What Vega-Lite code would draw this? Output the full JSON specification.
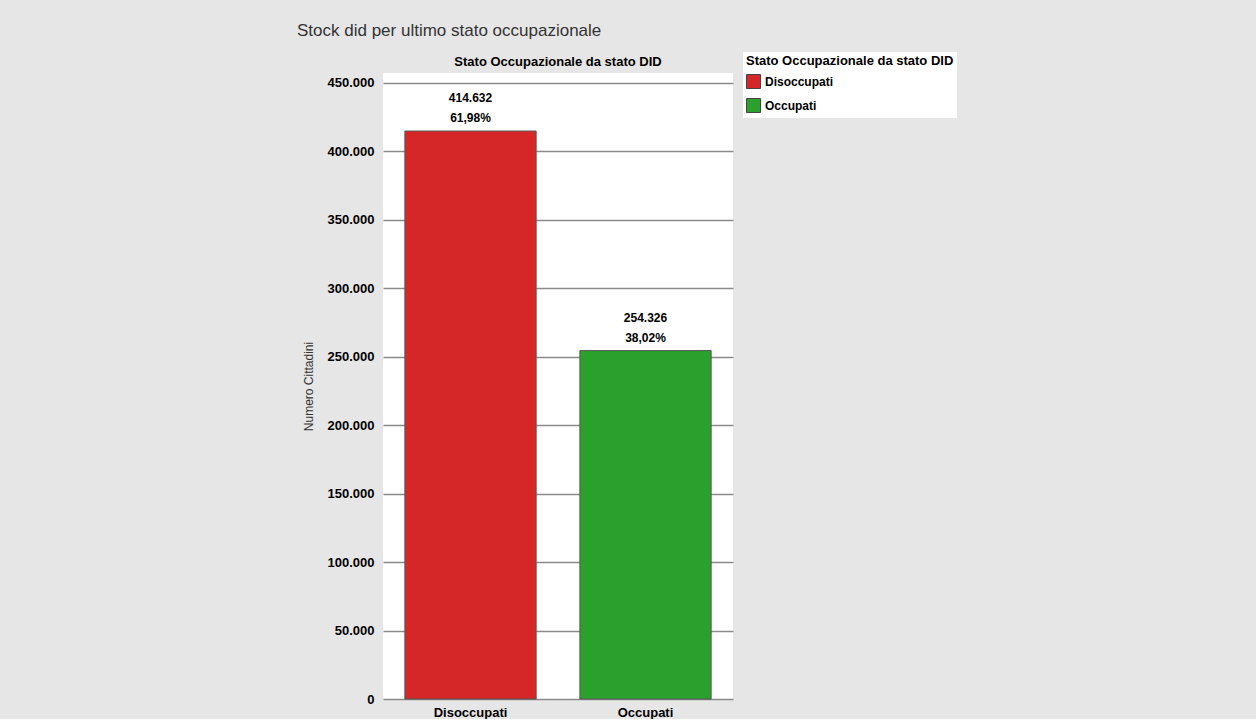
{
  "$schema": "https://vega.github.io/schema/vega-lite/v6.json",
  "background": "#e6e6e6",
  "padding": {"left": 297, "top": 22, "right": 299, "bottom": 0},
  "title": {
    "text": "Stock did per ultimo stato occupazionale",
    "anchor": "start",
    "frame": "bounds",
    "dx": -5,
    "fontSize": 17,
    "font": "Liberation Sans",
    "fontWeight": "normal",
    "color": "#333333",
    "offset": 12
  },
  "config": {
    "locale": {"number": {"decimal": ",", "thousands": ".", "grouping": [3], "currency": ["€", ""]}},
    "view": {"fill": "white", "stroke": null},
    "font": "Liberation Sans"
  },
  "vconcat": [
    {
      "width": 350,
      "height": 626,
      "title": {
        "text": "Stato Occupazionale da stato DID",
        "fontSize": 13,
        "fontWeight": "bold",
        "color": "black",
        "offset": 4,
        "anchor": "middle"
      },
      "data": {
        "values": [
          {"stato": "Disoccupati", "cittadini": 414632, "percentuale": "61,98%"},
          {"stato": "Occupati", "cittadini": 254326, "percentuale": "38,02%"}
        ]
      },
      "encoding": {
        "x": {
          "field": "stato",
          "type": "nominal",
          "scale": {"paddingInner": 0.25, "paddingOuter": 0.125},
          "axis": {
            "title": null,
            "labelAngle": 0,
            "labelFontSize": 13,
            "labelFontWeight": "bold",
            "labelColor": "black",
            "labelPadding": 7,
            "domain": false,
            "ticks": false,
            "grid": false
          }
        },
        "y": {
          "field": "cittadini",
          "type": "quantitative",
          "scale": {"domain": [0, 457000], "nice": false},
          "axis": {
            "title": "Numero Cittadini",
            "titleFontSize": 12,
            "titleFontWeight": "normal",
            "titleColor": "#333333",
            "titlePadding": 12,
            "format": ",d",
            "values": [0, 50000, 100000, 150000, 200000, 250000, 300000, 350000, 400000, 450000],
            "labelFontSize": 13,
            "labelFontWeight": "bold",
            "labelColor": "black",
            "labelPadding": 9,
            "domain": false,
            "ticks": false,
            "gridColor": "#8a8a8a",
            "gridWidth": 1.5,
            "gridOpacity": 1
          }
        }
      },
      "layer": [
        {
          "mark": {"type": "bar", "stroke": "#555555", "strokeWidth": 1},
          "encoding": {
            "color": {
              "field": "stato",
              "type": "nominal",
              "scale": {"domain": ["Disoccupati", "Occupati"], "range": ["#d62728", "#2ca02c"]},
              "legend": {
                "title": "Stato Occupazionale da stato DID",
                "orient": "none",
                "legendX": 360,
                "legendY": -21,
                "fillColor": "white",
                "padding": 3,
                "titleFontSize": 13,
                "titleFontWeight": "bold",
                "titleColor": "black",
                "titleLimit": 222,
                "titlePadding": 6,
                "labelFontSize": 12,
                "labelFontWeight": "bold",
                "labelColor": "black",
                "symbolType": "square",
                "symbolSize": 196,
                "symbolStrokeColor": "#444444",
                "symbolStrokeWidth": 1,
                "symbolOpacity": 1,
                "rowPadding": 5
              }
            }
          }
        },
        {
          "mark": {"type": "text", "dy": -33, "fontSize": 12, "fontWeight": "bold", "color": "black"},
          "encoding": {"text": {"field": "cittadini", "type": "quantitative", "format": ",d"}}
        },
        {
          "mark": {"type": "text", "dy": -13, "fontSize": 12, "fontWeight": "bold", "color": "black"},
          "encoding": {"text": {"field": "percentuale", "type": "nominal"}}
        }
      ]
    }
  ]
}
